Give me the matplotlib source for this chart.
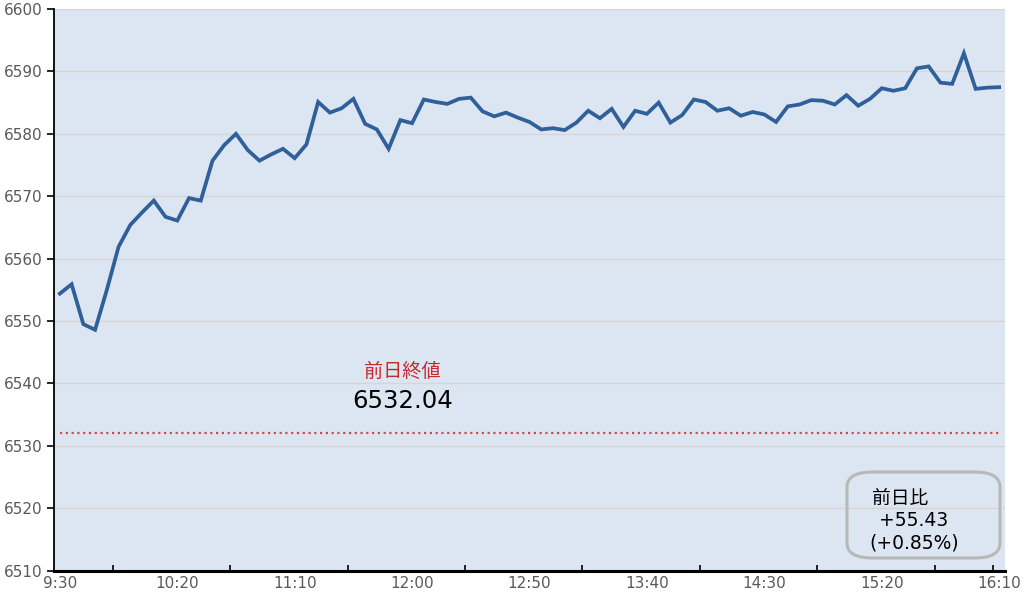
import matplotlib
matplotlib.use("Agg")
import matplotlib.pyplot as plt
from matplotlib.patches import FancyBboxPatch

plt.rcParams['font.family'] = ['DejaVu Sans', 'Noto Sans CJK JP']

# 5-minute intervals from 9:30 to 16:10 (81 points)
times = []
h, m = 9, 30
for _ in range(81):
    times.append(f"{h}:{m:02d}")
    m += 5
    if m >= 60:
        m -= 60
        h += 1

values = [
    6554.4, 6555.9, 6549.5, 6548.6, 6555.0, 6561.9, 6565.4, 6567.4, 6569.3, 6566.7,
    6566.1, 6569.7, 6569.3, 6575.7, 6578.2, 6580.0, 6577.4, 6575.7, 6576.7, 6577.6,
    6576.1, 6578.3, 6585.1, 6583.4, 6584.1, 6585.6, 6581.6, 6580.7, 6577.6, 6582.2,
    6581.7, 6585.5, 6585.1, 6584.8, 6585.6, 6585.8, 6583.6, 6582.8, 6583.4, 6582.6,
    6581.9, 6580.7, 6580.9, 6580.6, 6581.8, 6583.7, 6582.5, 6584.0, 6581.1, 6583.7,
    6583.2, 6585.0, 6581.8, 6583.0, 6585.5, 6585.1, 6583.7, 6584.1, 6582.9, 6583.5,
    6583.1, 6581.9, 6584.4, 6584.7, 6585.4, 6585.3, 6584.7, 6586.2, 6584.5, 6585.6,
    6587.3, 6586.9, 6587.3, 6590.5, 6590.8, 6588.2, 6588.0, 6592.9, 6587.2, 6587.4,
    6587.47,
]
prev_close = 6532.04
prev_label = "前日終値"
prev_value_text = "6532.04"
diff_lines = ["前日比", "+55.43", "(+0.85%)"]
y_ticks = list(range(6510, 6601, 10))

fig = plt.figure(figsize=(10.30, 5.95), dpi=100)
ax = fig.add_axes([54/1030, 1 - 570.7/595, (1005-54)/1030, (570.7-9)/595])
ax.set_facecolor('#dce6f2')

x = list(range(len(values)))
ax.plot(x, values, color='#30609a', lw=2.7, solid_joinstyle='miter', zorder=3)
ax.plot([0, len(values)-1], [prev_close, prev_close], color='#d04a4a', lw=1.6,
        linestyle=(0, (1, 1.6)), zorder=2)

ax.set_xlim(-0.5, len(values) - 0.5)
ax.set_ylim(6510, 6600)
ax.set_yticks(y_ticks)
ax.set_yticklabels([str(v) for v in y_ticks])
ax.yaxis.grid(True, color='#d9d6d2', lw=1.0)
ax.set_axisbelow(True)

label_idx = list(range(0, len(values), 10))
ax.set_xticks(label_idx)
ax.set_xticklabels([times[i] for i in label_idx])
ax.tick_params(axis='x', length=0, pad=4, labelsize=11, labelcolor='#595959')
minor = [i + 4.5 for i in range(0, 80, 10)] + [79.5]
ax.set_xticks(minor, minor=True)
ax.tick_params(axis='x', which='minor', direction='in', length=4, width=1.2, color='black')
ax.tick_params(axis='y', direction='out', length=5, width=1.2, color='black',
               labelsize=11, labelcolor='#595959', pad=3)

for s in ['top', 'right']:
    ax.spines[s].set_visible(False)
ax.spines['left'].set_linewidth(1.3)
ax.spines['bottom'].set_linewidth(2.2)

# previous close annotation
fig.text(402/1030, 1 - 371/595, prev_label, color='#c8282a', fontsize=13.8,
         ha='center', va='center')
fig.text(403/1030, 1 - 401/595, prev_value_text, color='black', fontsize=17.6,
         ha='center', va='center')

# change box
box = FancyBboxPatch((847/1030, 1 - 558/595), (1000-847)/1030, (558-472)/595,
                     boxstyle='round,pad=0,rounding_size=0.025',
                     transform=fig.transFigure, facecolor='none',
                     edgecolor='#b8b8b8', lw=2.2, zorder=5)
fig.patches.append(box)
fig.text(872/1030, 1 - 498/595, diff_lines[0], fontsize=13.5, ha='left', va='center')
fig.text(879/1030, 1 - 520/595, diff_lines[1], fontsize=13.5, ha='left', va='center')
fig.text(869/1030, 1 - 543/595, diff_lines[2], fontsize=13.5, ha='left', va='center')

fig.savefig('out.png', dpi=100, facecolor='white')
